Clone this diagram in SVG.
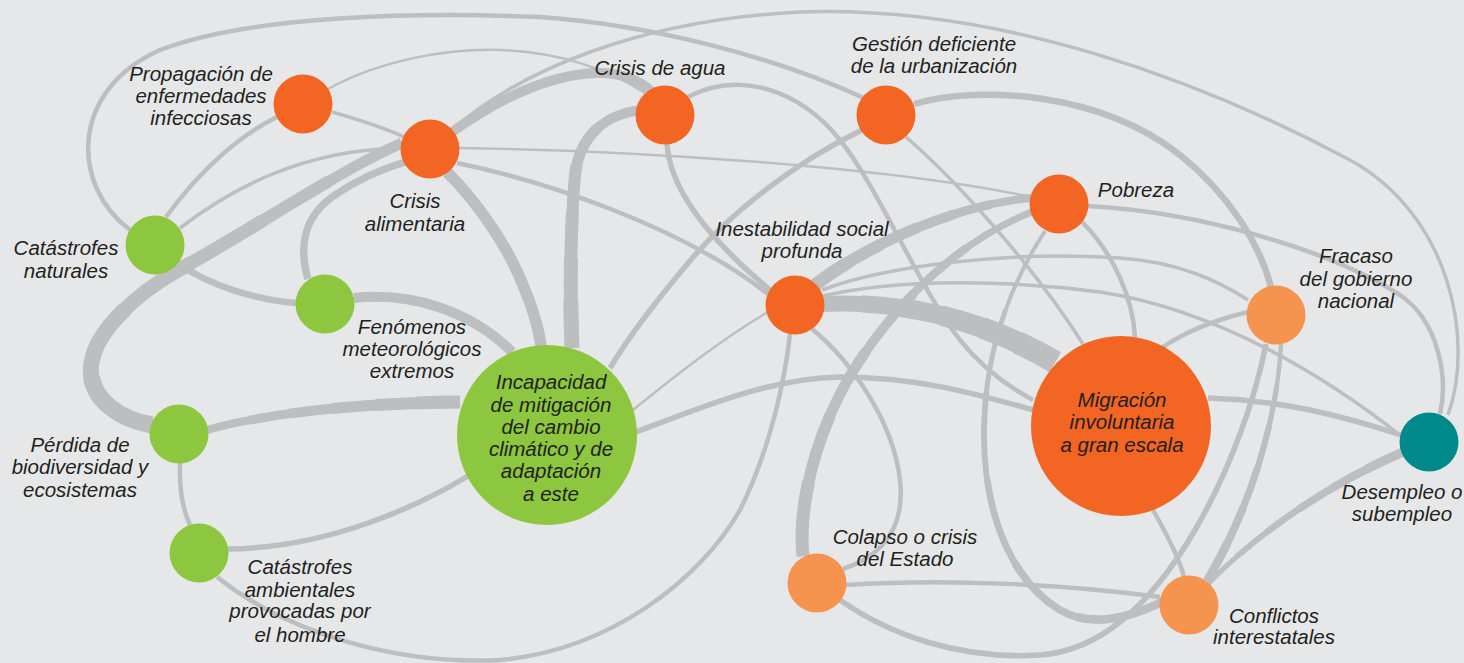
<svg xmlns="http://www.w3.org/2000/svg" width="1464" height="663" viewBox="0 0 1464 663">
<style>
.bg{fill:#e6e7e8}
.e{fill:none;stroke:#bcbec0;stroke-linecap:butt}
.w2{stroke-width:2.5}.w3{stroke-width:3.5}.w4{stroke-width:4.5}.w5{stroke-width:5.5}.w6{stroke-width:6.5}
.w7{stroke-width:7.5}.w10{stroke-width:10}.w11{stroke-width:11.5}
.s1{stroke-dasharray:0 17 83}.s2{stroke-dasharray:0 33 67}.s3{stroke-dasharray:0 50 50}.s4{stroke-dasharray:0 67 33}.s5{stroke-dasharray:0 83 17}
.t1{stroke-dasharray:83 17}.t2{stroke-dasharray:67 33}.t3{stroke-dasharray:50 50}.t4{stroke-dasharray:33 67}.t5{stroke-dasharray:17 83}
.o{fill:#f26522}.lo{fill:#f5934f}.g{fill:#8dc63f}.t{fill:#00898a}
text{font-family:"Liberation Sans",Arial,sans-serif;font-style:italic;font-size:20.5px;fill:#231f20;text-anchor:middle}
</style>
<defs>
<path id="pPB-CA" pathLength="100" d="M152,425 C110,418 85,390 92,360 C98,330 135,295 175,272 C260,225 340,170 402,143"/>
<path id="pI-M" pathLength="100" d="M820,304 C900,300 980,318 1055,362"/>
<path id="pPb-Co" pathLength="100" d="M1032,212 C960,240 900,300 860,360 C820,420 797,500 803,556"/>
<path id="pCW-Inc" pathLength="100" d="M640,110 C605,115 580,135 575,175 C570,230 570,300 572,348"/>
<path id="pPb-Cf" pathLength="100" d="M1045,231 C1010,285 985,350 984,430 C983,510 1010,580 1060,610 C1095,630 1135,615 1162,602"/>
<path id="pFr-Cf" pathLength="100" d="M1281,344 C1278,410 1255,500 1207,581"/>
<path id="pCf-D" pathLength="100" d="M1208,584 C1250,540 1320,488 1403,452"/>
<path id="pPB-Inc" pathLength="100" d="M207,430 C260,415 350,403 460,402"/>
<path id="pI-Pb" pathLength="100" d="M815,285 C860,250 950,205 1031,198"/>
</defs>
<rect class="bg" x="0" y="0" width="1464" height="663"/>
<g id="connectors">
<path class="e w4" d="M130,230 C70,185 70,90 160,50 C250,15 420,12 540,17 C650,25 770,55 864,98"/>
<path class="e w3" d="M452,130 C520,70 640,20 800,12 C1000,5 1200,80 1350,160 C1450,215 1475,340 1448,415"/>
<path class="e w2" d="M328,89 C380,60 450,48 500,50 C560,52 610,70 645,93"/>
<path class="e w3" d="M332,112 C360,120 385,128 404,137"/>
<path class="e w4" d="M166,217 C200,170 240,135 277,117"/>
<path class="e w3" d="M180,228 C230,190 300,150 401,148"/>
<g style="stroke-width:11"><use href="#pPB-CA" class="e"/></g>
<use href="#pPB-CA" class="e t1" style="stroke-width:12.2"/>
<use href="#pPB-CA" class="e t2" style="stroke-width:13.4"/>
<use href="#pPB-CA" class="e t3" style="stroke-width:14.6"/>
<use href="#pPB-CA" class="e t4" style="stroke-width:15.8"/>
<use href="#pPB-CA" class="e t5" style="stroke-width:17"/>
<path class="e w10" d="M452,132 C500,98 550,75 595,73 C620,72 640,80 652,92"/>
<use href="#pCW-Inc" class="e" style="stroke-width:10"/>
<use href="#pCW-Inc" class="e s1" style="stroke-width:11"/>
<use href="#pCW-Inc" class="e s2" style="stroke-width:12"/>
<use href="#pCW-Inc" class="e s3" style="stroke-width:13"/>
<use href="#pCW-Inc" class="e s4" style="stroke-width:14"/>
<use href="#pCW-Inc" class="e s5" style="stroke-width:15"/>
<path class="e w11" d="M447,172 C480,205 510,250 525,290 C535,315 540,335 541,348"/>
<path class="e w10" d="M354,298 C410,292 470,310 512,352"/>
<path class="e w7" d="M308,279 C298,245 305,215 335,195 C360,178 385,168 405,162"/>
<path class="e w6" d="M180,265 C210,285 255,300 296,303"/>
<use href="#pPB-Inc" class="e" style="stroke-width:8"/>
<use href="#pPB-Inc" class="e s1" style="stroke-width:9"/>
<use href="#pPB-Inc" class="e s2" style="stroke-width:10"/>
<use href="#pPB-Inc" class="e s3" style="stroke-width:11"/>
<use href="#pPB-Inc" class="e s4" style="stroke-width:12"/>
<use href="#pPB-Inc" class="e s5" style="stroke-width:13"/>
<path class="e w5" d="M468,476 C420,505 330,548 228,549"/>
<path class="e w4" d="M180,463 C179,490 183,510 190,525"/>
<path class="e w4" d="M217,577 C290,635 400,665 500,660 C610,650 700,580 740,510 C770,450 785,380 790,334"/>
<path class="e w5" d="M862,130 C790,165 730,215 695,255 C665,290 630,335 610,368"/>
<path class="e w3" d="M906,137 C950,175 1030,260 1083,344"/>
<path class="e w6" d="M914,104 C980,85 1100,92 1180,155 C1230,195 1260,245 1271,287"/>
<path class="e w5" d="M667,144 C670,190 710,240 770,290"/>
<path class="e w4" d="M688,97 C740,70 800,90 840,140 C880,190 920,290 960,340 C980,365 1005,385 1033,400"/>
<path class="e w2" d="M459,148 C620,150 880,165 1031,197"/>
<path class="e w4" d="M457,163 C540,180 680,225 768,294"/>
<use href="#pI-Pb" class="e" style="stroke-width:8"/>
<use href="#pI-Pb" class="e t1" style="stroke-width:9"/>
<use href="#pI-Pb" class="e t2" style="stroke-width:10"/>
<use href="#pI-Pb" class="e t3" style="stroke-width:11"/>
<use href="#pI-Pb" class="e t4" style="stroke-width:12"/>
<use href="#pI-Pb" class="e t5" style="stroke-width:13"/>
<use href="#pPb-Co" class="e" style="stroke-width:7"/>
<use href="#pPb-Co" class="e s1" style="stroke-width:8.2"/>
<use href="#pPb-Co" class="e s2" style="stroke-width:9.4"/>
<use href="#pPb-Co" class="e s3" style="stroke-width:10.6"/>
<use href="#pPb-Co" class="e s4" style="stroke-width:11.8"/>
<use href="#pPb-Co" class="e s5" style="stroke-width:13"/>
<path class="e w4" d="M1082,222 C1115,255 1133,300 1135,337"/>
<use href="#pPb-Cf" class="e" style="stroke-width:4"/>
<use href="#pPb-Cf" class="e s1" style="stroke-width:4.9"/>
<use href="#pPb-Cf" class="e s2" style="stroke-width:5.8"/>
<use href="#pPb-Cf" class="e s3" style="stroke-width:6.7"/>
<use href="#pPb-Cf" class="e s4" style="stroke-width:7.6"/>
<use href="#pPb-Cf" class="e s5" style="stroke-width:8.5"/>
<use href="#pI-M" class="e" style="stroke-width:16"/>
<use href="#pI-M" class="e s1" style="stroke-width:17.4"/>
<use href="#pI-M" class="e s2" style="stroke-width:18.8"/>
<use href="#pI-M" class="e s3" style="stroke-width:20.2"/>
<use href="#pI-M" class="e s4" style="stroke-width:21.6"/>
<use href="#pI-M" class="e s5" style="stroke-width:23"/>
<path class="e w3" d="M822,290 C880,268 1000,250 1120,258 C1180,262 1220,282 1248,300"/>
<path class="e w3" d="M823,296 C900,278 1010,280 1100,292 C1220,310 1330,380 1401,436"/>
<path class="e w2" d="M768,312 C720,340 670,380 633,410"/>
<path class="e w4" d="M812,329 C850,360 893,420 900,480 C905,525 885,555 843,569"/>
<path class="e w5" d="M636,432 C700,408 770,378 840,377 C920,377 980,395 1033,410"/>
<path class="e w5" d="M1208,398 C1280,400 1340,415 1401,435"/>
<path class="e w4" d="M1088,206 C1200,212 1330,250 1400,295 C1440,322 1448,380 1440,414"/>
<path class="e w4" d="M1248,312 C1215,320 1185,332 1163,347"/>
<path class="e w5" d="M840,600 C890,635 960,660 1040,655 C1110,650 1160,590 1195,530 C1230,470 1255,400 1266,344"/>
<use href="#pFr-Cf" class="e" style="stroke-width:4.5"/>
<use href="#pFr-Cf" class="e s1" style="stroke-width:5.3"/>
<use href="#pFr-Cf" class="e s2" style="stroke-width:6.1"/>
<use href="#pFr-Cf" class="e s3" style="stroke-width:6.9"/>
<use href="#pFr-Cf" class="e s4" style="stroke-width:7.7"/>
<use href="#pFr-Cf" class="e s5" style="stroke-width:8.5"/>
<path class="e w4" d="M1153,510 C1170,540 1180,560 1184,577"/>
<use href="#pCf-D" class="e" style="stroke-width:5"/>
<use href="#pCf-D" class="e s1" style="stroke-width:5.8"/>
<use href="#pCf-D" class="e s2" style="stroke-width:6.6"/>
<use href="#pCf-D" class="e s3" style="stroke-width:7.4"/>
<use href="#pCf-D" class="e s4" style="stroke-width:8.2"/>
<use href="#pCf-D" class="e s5" style="stroke-width:9"/>
<path class="e w4" d="M846,585 C950,578 1070,585 1160,597"/>
</g>
<g id="n-propagacion"><circle class="o" cx="303" cy="104" r="29.5"/><text x="201" y="81">Propagación de</text><text x="201" y="103">enfermedades</text><text x="201" y="125">infecciosas</text></g>
<g id="n-crisis-alimentaria"><circle class="o" cx="430" cy="149" r="29.5"/><text x="415" y="208">Crisis</text><text x="415" y="231">alimentaria</text></g>
<g id="n-crisis-agua"><circle class="o" cx="665" cy="115" r="29.5"/><text x="660" y="75">Crisis de agua</text></g>
<g id="n-gestion"><circle class="o" cx="886" cy="115" r="29.5"/><text x="934" y="51">Gestión deficiente</text><text x="934" y="73">de la urbanización</text></g>
<g id="n-pobreza"><circle class="o" cx="1059" cy="204" r="29.5"/><text x="1136" y="197">Pobreza</text></g>
<g id="n-catastrofes-naturales"><circle class="g" cx="155" cy="245" r="29.5"/><text x="66" y="255">Catástrofes</text><text x="66" y="278">naturales</text></g>
<g id="n-fenomenos"><circle class="g" cx="325" cy="304" r="29.5"/><text x="412" y="334">Fenómenos</text><text x="412" y="356">meteorológicos</text><text x="412" y="378">extremos</text></g>
<g id="n-inestabilidad"><circle class="o" cx="795" cy="305" r="29.5"/><text x="802" y="236">Inestabilidad social</text><text x="802" y="258">profunda</text></g>
<g id="n-fracaso"><circle class="lo" cx="1276" cy="315" r="29.5"/><text x="1356" y="263">Fracaso</text><text x="1356" y="286">del gobierno</text><text x="1356" y="308">nacional</text></g>
<g id="n-incapacidad"><circle class="g" cx="547" cy="435" r="90"/><text x="551" y="389">Incapacidad</text><text x="551" y="412">de mitigación</text><text x="551" y="434">del cambio</text><text x="551" y="456">climático y de</text><text x="551" y="478">adaptación</text><text x="551" y="501">a este</text></g>
<g id="n-migracion"><circle class="o" cx="1121" cy="426" r="90"/><text x="1122" y="407">Migración</text><text x="1122" y="429">involuntaria</text><text x="1122" y="452">a gran escala</text></g>
<g id="n-perdida"><circle class="g" cx="179" cy="434" r="29.5"/><text x="80" y="452">Pérdida de</text><text x="80" y="474">biodiversidad y</text><text x="80" y="497">ecosistemas</text></g>
<g id="n-desempleo"><circle class="t" cx="1429" cy="442" r="29.5"/><text x="1402" y="499">Desempleo o</text><text x="1402" y="521">subempleo</text></g>
<g id="n-catastrofes-ambientales"><circle class="g" cx="199" cy="553" r="29.5"/><text x="300" y="574">Catástrofes</text><text x="300" y="597">ambientales</text><text x="300" y="618">provocadas por</text><text x="300" y="642">el hombre</text></g>
<g id="n-colapso"><circle class="lo" cx="817" cy="583" r="29.5"/><text x="905" y="544">Colapso o crisis</text><text x="905" y="566">del Estado</text></g>
<g id="n-conflictos"><circle class="lo" cx="1189" cy="605" r="29.5"/><text x="1274" y="623">Conflictos</text><text x="1274" y="644">interestatales</text></g>
</svg>
